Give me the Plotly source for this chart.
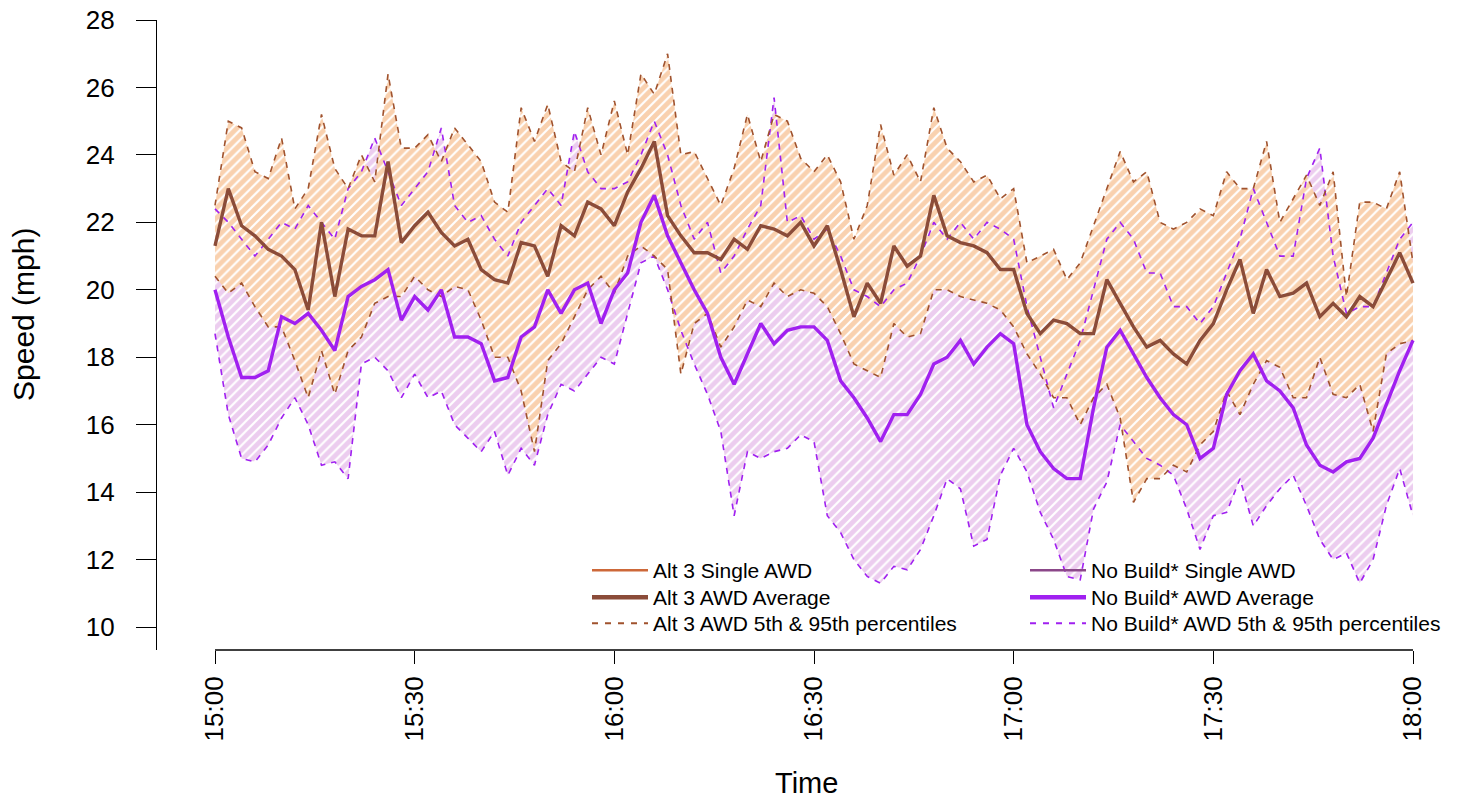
import plotly.graph_objects as go
import pandas as pd

# ---------------- data (2-minute steps, 15:00 - 18:00) ----------------
times = pd.date_range("2000-01-01 15:00", "2000-01-01 18:00", freq="2min")

alt3_avg = [21.3, 23.0, 21.9, 21.6, 21.2, 21.0, 20.6, 19.4, 22.0, 19.8, 21.8, 21.6, 21.6, 23.8, 21.4,
            21.9, 22.3, 21.7, 21.3, 21.5, 20.6, 20.3, 20.2, 21.4, 21.3, 20.4, 21.9, 21.6, 22.6, 22.4,
            21.9, 22.9, 23.6, 24.4, 22.2, 21.6, 21.1, 21.1, 20.9, 21.5, 21.2, 21.9, 21.8, 21.6, 22.0,
            21.3, 21.9, 20.6, 19.2, 20.2, 19.6, 21.3, 20.7, 21.0, 22.8, 21.6, 21.4, 21.3, 21.1, 20.6,
            20.6, 19.3, 18.7, 19.1, 19.0, 18.7, 18.7, 20.3, 19.6, 18.9, 18.3, 18.5, 18.1, 17.8, 18.5,
            19.0, 20.0, 20.9, 19.3, 20.6, 19.8, 19.9, 20.2, 19.2, 19.6, 19.2, 19.8, 19.5, 20.3, 21.1,
            20.2]
alt3_p95 = [22.5, 25.0, 24.8, 23.5, 23.3, 24.5, 22.4, 23.0, 25.2, 23.6, 23.0, 24.0, 23.2, 26.4, 24.2,
            24.2, 24.6, 23.8, 24.8, 24.3, 23.8, 22.6, 22.3, 25.4, 24.4, 25.5, 23.8, 23.5, 25.4, 24.0,
            25.6, 24.0, 26.4, 25.8, 27.0, 24.0, 24.1, 23.3, 22.5, 23.6, 25.2, 23.8, 25.2, 25.0, 23.9,
            23.5, 24.0, 23.2, 21.5, 22.5, 24.9, 23.4, 24.0, 23.2, 25.4, 24.2, 23.8, 23.2, 23.4, 22.7,
            23.0, 20.8, 21.0, 21.2, 20.3, 20.8, 21.9, 23.0, 24.1, 23.2, 23.5, 22.0, 21.8, 22.0, 22.4,
            22.2, 23.5, 23.0, 23.0, 24.4, 22.0, 22.7, 23.4, 22.5, 23.5, 19.8, 22.6, 22.6, 22.4, 23.5,
            20.8]
alt3_p5 = [20.4, 19.9, 20.2, 19.5, 18.9, 18.9, 17.9, 16.8, 18.2, 16.9, 18.2, 18.6, 19.6, 19.8, 19.8,
           20.4, 20.0, 19.8, 20.1, 20.0, 19.1, 18.0, 18.0, 17.0, 15.2, 17.9, 18.4, 19.2, 20.0, 20.4,
           19.9, 21.0, 21.3, 21.0, 20.6, 17.5, 19.0, 19.3, 18.3, 18.9, 19.7, 19.5, 20.2, 19.8, 20.0,
           19.9, 19.5, 18.7, 17.8, 17.6, 17.4, 19.0, 18.6, 18.7, 20.0, 20.0, 19.8, 19.7, 19.6, 19.4,
           18.9, 18.1, 17.5, 16.8, 16.8, 16.0, 16.8, 17.2, 16.2, 13.7, 14.4, 14.4, 14.8, 14.6, 15.4,
           15.8, 17.0, 16.3, 17.2, 17.9, 17.7, 16.8, 16.8, 18.0, 16.9, 16.8, 17.2, 15.8, 18.1, 18.4,
           18.5]

nb_avg = [20.0, 18.6, 17.4, 17.4, 17.6, 19.2, 19.0, 19.3, 18.8, 18.2, 19.8, 20.1, 20.3, 20.6, 19.1,
          19.8, 19.4, 20.0, 18.6, 18.6, 18.4, 17.3, 17.4, 18.6, 18.9, 20.0, 19.3, 20.0, 20.2, 19.0,
          20.0, 20.5, 22.0, 22.8, 21.6, 20.8, 20.0, 19.3, 18.0, 17.2, 18.1, 19.0, 18.4, 18.8, 18.9,
          18.9, 18.5, 17.3, 16.8, 16.2, 15.5, 16.3, 16.3, 16.9, 17.8, 18.0, 18.5, 17.8, 18.3, 18.7,
          18.4, 16.0, 15.2, 14.7, 14.4, 14.4, 16.5, 18.3, 18.8, 18.1, 17.4, 16.8, 16.3, 16.0, 15.0,
          15.3, 16.9, 17.6, 18.1, 17.3, 17.0, 16.5, 15.4, 14.8, 14.6, 14.9, 15.0, 15.6, 16.6, 17.6,
          18.5]
nb_p95 = [22.4, 22.0, 21.5, 21.0, 21.5, 22.0, 21.8, 22.5, 22.0, 21.5, 23.0, 23.5, 24.5, 23.5, 22.5,
          23.0, 23.5, 24.8, 22.5, 22.0, 22.2, 21.5, 21.0, 22.0, 22.5, 23.0, 22.5, 24.7, 23.5, 23.0,
          23.0, 23.2, 24.0, 25.0, 24.0, 22.5, 21.5, 22.0, 20.5, 21.0, 21.8, 22.5, 25.7, 22.0, 22.2,
          21.5, 21.8, 21.0, 20.0, 19.8, 19.5, 20.0, 20.2, 21.0, 22.0, 21.5, 22.0, 21.5, 22.0, 21.8,
          21.5, 19.5, 18.0, 16.5, 17.5, 18.5, 20.0, 21.5, 22.0, 21.5, 20.5, 20.5, 19.5, 19.5, 19.0,
          19.5, 20.5, 21.5, 23.0, 22.0, 21.0, 21.0, 23.3, 24.2, 21.0, 19.3, 19.5, 19.5, 20.5, 21.5,
          22.0]
nb_p5 = [18.7, 16.3, 15.0, 14.9, 15.4, 16.2, 16.8, 16.0, 14.8, 14.9, 14.4, 17.8, 18.0, 17.6, 16.8,
         17.5, 16.8, 17.0, 16.0, 15.6, 15.2, 15.8, 14.5, 15.3, 14.8, 16.3, 17.2, 17.0, 17.5, 18.0,
         17.8, 19.3, 20.8, 21.0, 20.0, 18.8, 17.8, 16.9, 15.8, 13.3, 15.2, 15.0, 15.2, 15.3, 15.7,
         15.5, 13.3, 12.8, 12.0, 11.5, 11.3, 11.8, 11.7, 12.3, 13.3, 14.4, 14.1, 12.4, 12.6, 14.5,
         15.3, 14.6, 13.4, 12.6, 11.5, 11.4, 13.5, 14.3, 16.0, 15.5, 15.0, 14.8, 14.5, 13.5, 12.3,
         13.3, 13.4, 14.4, 13.0, 13.6, 14.1, 14.5, 13.6, 12.6, 12.0, 12.2, 11.3, 12.0, 13.6, 14.7,
         13.3]

y_ticks = [10, 12, 14, 16, 18, 20, 22, 24, 26, 28]
x_ticks = pd.date_range("2000-01-01 15:00", "2000-01-01 18:00", freq="30min")
x_ticklabels = [t.strftime("%H:%M") for t in x_ticks]

legend_names = ["Alt 3 Single AWD", "Alt 3 AWD Average", "Alt 3 AWD 5th & 95th percentiles",
                "No Build* Single AWD", "No Build* AWD Average", "No Build* AWD 5th & 95th percentiles"]

# ---------------- styles ----------------
FONT = "Liberation Sans, Arial, sans-serif"
ALT_SINGLE = "#CD6839"
ALT_AVG = "#8B4C39"
ALT_DASH = "#A0522D"
ALT_FILL = "#F4A460"
NB_SINGLE = "#8B4789"
NB_AVG = "#A020F0"
NB_DASH = "#A020F0"
NB_FILL = "#DA9CDF"

fig = go.Figure()


def band(lo, hi, color, bg, name):
    xs = list(times) + list(times[::-1])
    ys = list(hi) + list(lo[::-1])
    return go.Scatter(x=xs, y=ys, mode="lines", fill="toself", line=dict(width=0, color="rgba(0,0,0,0)"),
                      fillcolor="rgba(0,0,0,0)",
                      fillpattern=dict(shape="/", fgcolor=color, bgcolor=bg, size=7, solidity=0.7),
                      showlegend=False, hoverinfo="skip", name=name)


fig.add_trace(band(nb_p5, nb_p95, NB_FILL, "rgba(0,0,0,0)", "nb band"))
fig.add_trace(band(alt3_p5, alt3_p95, ALT_FILL, "white", "alt band"))

dash = "6px,6px"
# percentile lines
fig.add_trace(go.Scatter(x=times, y=nb_p95, mode="lines", line=dict(color=NB_DASH, width=1.6, dash=dash), showlegend=False))
fig.add_trace(go.Scatter(x=times, y=nb_p5, mode="lines", line=dict(color=NB_DASH, width=1.6, dash=dash), showlegend=False))
fig.add_trace(go.Scatter(x=times, y=alt3_p95, mode="lines", line=dict(color=ALT_DASH, width=1.6, dash=dash), showlegend=False))
fig.add_trace(go.Scatter(x=times, y=alt3_p5, mode="lines", line=dict(color=ALT_DASH, width=1.6, dash=dash), showlegend=False))
# averages
fig.add_trace(go.Scatter(x=times, y=nb_avg, mode="lines", line=dict(color=NB_AVG, width=3.4), showlegend=False))
fig.add_trace(go.Scatter(x=times, y=alt3_avg, mode="lines", line=dict(color=ALT_AVG, width=3.4), showlegend=False))

# legend entries (one legend per row so rows can be placed exactly)
legend_styles = [
    dict(color=ALT_SINGLE, width=2.5),
    dict(color=ALT_AVG, width=4.5),
    dict(color=ALT_DASH, width=2, dash="6px,7px"),
    dict(color=NB_SINGLE, width=2.5),
    dict(color=NB_AVG, width=4.5),
    dict(color=NB_DASH, width=2, dash="6px,7px"),
]
legend_ids = ["legend", "legend2", "legend3", "legend4", "legend5", "legend6"]
for name, st, lid in zip(legend_names, legend_styles, legend_ids):
    fig.add_trace(go.Scatter(x=[None], y=[None], mode="lines", name=name, line=st, legend=lid))

W, H = 1465, 800
L, R, T, B = 157, 5, 20, 150
PW, PH = W - L - R, H - T - B

x0 = pd.Timestamp("2000-01-01 15:00")
px_per_min = (1413 - 215) / 180.0
xr = [x0 + pd.Timedelta(minutes=(157 - 215) / px_per_min), x0 + pd.Timedelta(minutes=(W - R - 215) / px_per_min)]

legend_common = dict(font=dict(family=FONT, size=21, color="black"), bgcolor="rgba(0,0,0,0)",
                     borderwidth=0, xanchor="left", yanchor="top", itemwidth=56)
row_centers = [571, 598, 624]
col_starts = [587, 1025]
legends = {}
for i, lid in enumerate(legend_ids):
    col, row = divmod(i, 3)
    legends[lid] = dict(x=(col_starts[col] - L) / PW, y=1 - (row_centers[row] - 21 - T) / PH, **legend_common)

fig.update_layout(
    width=W, height=H,
    margin=dict(l=L, r=R, t=T, b=B),
    paper_bgcolor="white", plot_bgcolor="white",
    font=dict(family=FONT, color="black"),
    showlegend=True,
    xaxis=dict(range=xr, showgrid=False, zeroline=False, showline=False,
               tickmode="array", tickvals=list(x_ticks), ticktext=x_ticklabels,
               ticks="outside", ticklen=13, tickwidth=1.3, tickcolor="black",
               tickangle=-90, tickfont=dict(family=FONT, size=26, color="black"),
               ticklabelstandoff=2),
    yaxis=dict(range=[9.32, 28], showgrid=False, zeroline=False, showline=True,
               linecolor="black", linewidth=1.3,
               tickmode="array", tickvals=y_ticks, ticktext=[str(v) for v in y_ticks],
               ticks="outside", ticklen=20, tickwidth=1.3, tickcolor="black",
               tickfont=dict(family=FONT, size=26, color="black"), ticklabelstandoff=16),
    shapes=[dict(type="line", xref="x", yref="paper", x0=x_ticks[0], x1=x_ticks[-1], y0=0, y1=0,
                 line=dict(color="black", width=1.3))],
    annotations=[
        dict(text="Speed (mph)", textangle=-90, xref="paper", yref="paper",
             x=(23 - L) / PW, y=1 - (315 - T) / PH, xanchor="center", yanchor="middle",
             showarrow=False, font=dict(family=FONT, size=30, color="black")),
        dict(text="Time", xref="paper", yref="paper",
             x=(806 - L) / PW, y=1 - (783 - T) / PH, xanchor="center", yanchor="middle",
             showarrow=False, font=dict(family=FONT, size=29, color="black")),
    ],
    **legends,
)

fig.write_html("out.html")
